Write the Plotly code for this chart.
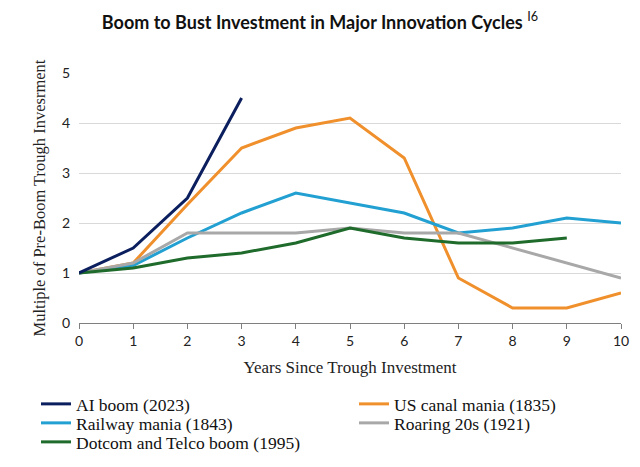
import plotly.graph_objects as go

years = list(range(0, 11))
ai_boom = [1.0, 1.5, 2.5, 4.5]
us_canal = [1.0, 1.2, 2.37, 3.5, 3.9, 4.1, 3.3, 0.9, 0.3, 0.3, 0.6]
railway = [1.0, 1.15, 1.7, 2.2, 2.6, 2.4, 2.2, 1.8, 1.9, 2.1, 2.0]
roaring = [1.0, 1.2, 1.8, 1.8, 1.8, 1.9, 1.8, 1.8, 1.5, 1.2, 0.9]
dotcom = [1.0, 1.1, 1.3, 1.4, 1.6, 1.9, 1.7, 1.6, 1.6, 1.7]

# (name, values, colour, legend id) ; drawn in this order
series = [
    ("US canal mania (1835)", us_canal, "#f0902c", "legend2"),
    ("Railway mania (1843)", railway, "#22a0d2", "legend3"),
    ("Roaring 20s (1921)", roaring, "#a8a8a8", "legend4"),
    ("Dotcom and Telco boom (1995)", dotcom, "#1f6b2b", "legend5"),
    ("AI boom (2023)", ai_boom, "#0b1f5e", "legend"),
]

fig = go.Figure()
for name, vals, color, lg in series:
    fig.add_trace(go.Scatter(
        x=years[:len(vals)], y=vals, mode="lines", name=name,
        line=dict(color=color, width=3),
        legend=lg,
    ))

leg_font = dict(family="Liberation Serif", size=17.5, color="#111111")

L, R, T, B = 79, 19, 73, 144
PW, PH = 640 - L - R, 467 - T - B


def leg(xpx, ypx):
    return dict(
        orientation="v",
        x=(xpx - L) / PW, xanchor="left",
        y=(467 - B - ypx) / PH, yanchor="middle",
        font=leg_font, itemwidth=30, tracegroupgap=0,
        bgcolor="rgba(0,0,0,0)", borderwidth=0,
    )


fig.update_layout(
    width=640, height=467,
    paper_bgcolor="white", plot_bgcolor="white",
    margin=dict(l=L, r=R, t=T, b=B, autoexpand=False),
    title=dict(
        text="<b>Boom to Bust Investment in Major Innovation Cycles</b> <sup>I6</sup>",
        x=0.5, xanchor="center", y=0.952, yanchor="middle",
        font=dict(family="Lato", size=18, color="#111111"),
    ),
    xaxis=dict(
        range=[0, 10], tickvals=years, showgrid=False,
        showline=True, linecolor="#7f7f7f", linewidth=1,
        ticks="outside", ticklen=5, tickcolor="#7f7f7f",
        tickfont=dict(family="Lato", size=14, color="#222222"),
        title=dict(text="Years Since Trough Investment",
                   font=dict(family="Liberation Serif", size=17, color="#222222"),
                   standoff=13),
        zeroline=False, automargin=False,
    ),
    yaxis=dict(
        range=[0, 5.0], tickvals=[0, 1, 2, 3, 4, 5],
        showgrid=True, gridcolor="#d9d9d9", gridwidth=1,
        zeroline=False, showline=False,
        tickfont=dict(family="Lato", size=14, color="#222222"),
        ticks="", ticklabelstandoff=8,
        title=dict(text="Multiple of Pre-Boom Trough Invesrment",
                   font=dict(family="Liberation Serif", size=16.5, color="#222222"),
                   standoff=12),
        automargin=False,
    ),
    legend=leg(36, 404),
    legend2=leg(354, 404),
    legend3=leg(36, 423),
    legend4=leg(354, 423),
    legend5=leg(36, 442),
    showlegend=True,
)

fig.write_html("out.html")
